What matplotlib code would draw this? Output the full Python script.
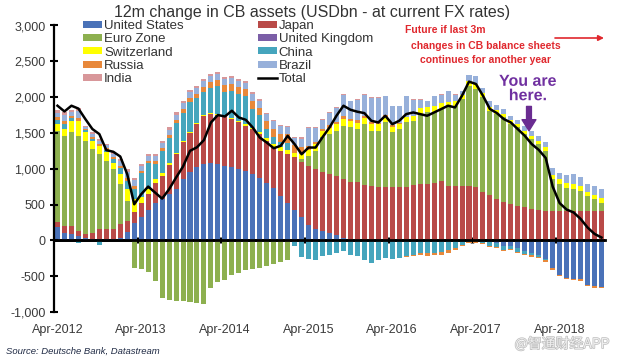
import matplotlib
matplotlib.use("Agg")
import matplotlib.pyplot as plt
import matplotlib.patheffects as pe
from matplotlib.ticker import FuncFormatter
import numpy as np
import pandas as pd

plt.rcParams["font.family"] = ["Liberation Sans", "DejaVu Sans"]

# monthly 12m change in CB assets, USDbn, Apr-2012 .. Oct-2018
months = pd.date_range("2012-04-01", periods=79, freq="MS")

us = [187, 107, 84, 60, 40, 20, 20, 20, 20, 40, 120, 237,
      320, 430, 520, 580, 650, 720, 850, 960, 1030, 1064, 1077, 1060,
      1040, 1020, 1000, 970, 924, 870, 800, 730, 620, 520, 430, 320,
      220, 160, 130, 107, 80, 40, 0, 0, 0, 0, 0, 0,
      0, 0, 0, 0, 0, 0, 0, 0, 0, 0, 0, 0,
      0, 0, -20, -30, -80, -80, -110, -150, -180, -210, -260, -380,
      -480, -520, -540, -545, -620, -640, -645]
japan = [70, 93, 116, 70, 44, 87, 134, 134, 134, 184, 150, 163,
         200, 220, 280, 320, 400, 480, 520, 540, 590, 676, 683, 690,
         700, 680, 650, 630, 626, 610, 590, 570, 630, 680, 730, 770,
         820, 830, 820, 813, 820, 820, 820, 810, 770, 760, 750, 750,
         750, 740, 750, 780, 790, 790, 800, 830, 760, 760, 760, 760,
         740, 680, 630, 580, 540, 510, 480, 460, 440, 420, 410, 410,
         410, 415, 410, 410, 405, 410, 410]
euro = [1273, 1260, 1307, 1330, 1306, 1167, 1050, 956, 840, 560, 280, -383,
        -406, -443, -570, -803, -826, -840, -850, -864, -873, -882, -663, -580,
        -550, -480, -450, -420, -400, -390, -360, -330, -300, -270, 0, 40,
        140, 260, 487, 564, 630, 740, 757, 744, 854, 770, 780, 897,
        757, 814, 897, 890, 974, 997, 987, 1004, 1097, 1120, 1214, 1400,
        1374, 1317, 1180, 1184, 1177, 1114, 1097, 1024, 974, 924, 840, 444,
        374, 322, 304, 280, 215, 164, 117]
uk = [0] * 79
swiss = [94, 94, 163, 210, 117, 116, 116, 117, 93, 140, 164, 174,
         80, 70, 60, 40, 30, 20, 20, 15, 15, 15, 15, 15,
         15, 15, 15, 20, 20, 30, 40, 50, 60, 60, 60, 70,
         80, 90, 93, 90, 90, 100, 90, 90, 80, 90, 90, 80,
         80, 70, 70, 70, 80, 80, 90, 80, 70, 60, 50, 60,
         70, 60, 50, 50, 50, 50, 50, 50, 50, 50, 60, 60,
         70, 70, 80, 70, 60, 60, 60]
china = [60, 70, 40, -30, 30, 30, -60, 30, 50, 80, 120, 150,
         344, 364, 204, 310, 347, 417, 390, 415, 355, 319, 359, 392,
         322, 375, 379, 390, 267, 234, 130, 90, 60, 100, -80, -230,
         -260, -270, -220, -200, -180, -150, -200, -220, -270, -315, -270, -245,
         -260, -245, -220, -200, -180, -180, -170, -160, -140, -100, -60, -20,
         -10, -30, -60, -60, -50, -40, -50, -40, -30, -20, -20, -10,
         0, 0, 0, 0, 0, 0, 0]
russia = [40, 40, 30, 40, 20, 20, 30, 30, 30, 40, 40, 40,
          30, 30, 40, 40, 50, 50, 60, 60, 60, 70, 80, 80,
          90, 100, 100, 100, 110, 110, 110, 120, 120, 120, 110, 100,
          60, 40, 30, 30, 30, 40, 30, 30, 30, 30, 20, 20,
          20, 10, -10, -20, -30, -40, -40, -40, -40, -30, -20, -10,
          -20, -20, -10, -20, -20, -20, -20, -20, -20, -20, -20, -20,
          -20, -20, -20, -20, -20, -20, -20]
brazil = [60, 80, 50, 90, 30, 40, 40, 40, 40, 60, 80, 80,
          60, 60, 70, 70, 70, 70, 80, 80, 80, 80, 80, 80,
          80, 80, 80, 90, 90, 90, 90, 100, 100, 100, 100, 120,
          247, 187, 124, 173, 197, 293, 243, 290, 299, 337, 347, 263,
          263, 236, 293, 224, 120, 73, 133, 119, 153, 93, 56, 90,
          116, 70, 80, 70, 70, 60, 60, 60, 60, 60, 60, 100,
          90, 110, 130, 130, 110, 120, 130]
india = [36, 43, 34, 43, 13, 27, 24, 17, 20, 30, 40, 33,
         30, 30, 30, 30, 30, 30, 30, 30, 30, 30, 30, 30,
         30, 30, 30, 30, 30, 30, 20, 20, 20, 20, 20, 20,
         10, 10, 10, 10, 10, 10, 10, 10, 10, 10, 10, 10,
         10, 10, 10, 10, 10, 10, 10, 10, 10, 10, 10, 0,
         0, 0, 0, 0, 0, 0, 0, 0, 0, 0, 0, 0,
         0, 0, 0, 0, 0, 0, 0]
total = [1880, 1800, 1880, 1840, 1693, 1555, 1484, 1260, 1237, 1171, 924, 504,
         644, 751, 667, 583, 714, 877, 1031, 1250, 1300, 1400, 1646, 1750,
         1730, 1810, 1716, 1683, 1576, 1436, 1366, 1287, 1320, 1460, 1343, 1203,
         1296, 1296, 1440, 1576, 1740, 1880, 1824, 1796, 1777, 1670, 1646, 1740,
         1623, 1670, 1763, 1786, 1763, 1740, 1786, 1833, 1880, 1856, 2020, 2216,
         2183, 2020, 1834, 1777, 1693, 1646, 1553, 1460, 1344, 1264, 1150, 750,
         520, 430, 390, 300, 180, 90, 40]

series = [
    ("United States", us, "#4A72B8"),
    ("Japan", japan, "#B94A48"),
    ("Euro Zone", euro, "#8DB04F"),
    ("United Kingdom", uk, "#7B5EA7"),
    ("Switzerland", swiss, "#FFFF00"),
    ("China", china, "#45A5BD"),
    ("Russia", russia, "#E8883A"),
    ("Brazil", brazil, "#97B0DA"),
    ("India", india, "#D8979A"),
]

fig = plt.figure(figsize=(6.2, 3.62), dpi=100)
ax = fig.add_axes([54 / 620, 1 - 312 / 362, 551 / 620, 286.5 / 362])

n = len(months)
x = np.arange(n)
pos_base = np.zeros(n)
neg_base = np.zeros(n)
handles = {}
for name, vals, color in series:
    v = np.asarray(vals, dtype=float)
    up = np.clip(v, 0, None)
    dn = np.clip(v, None, 0)
    handles[name] = ax.bar(x, up, 0.72, bottom=pos_base, color=color, linewidth=0)
    ax.bar(x, dn, 0.72, bottom=neg_base, color=color, linewidth=0)
    pos_base += up
    neg_base += dn

(handles["Total"],) = ax.plot(x, total, color="black", lw=1.8, zorder=6)

ax.set_xlim(-0.5, n - 0.5)
ax.set_ylim(-1000, 3000)
ax.set_yticks(np.arange(-1000, 3001, 500))
ax.yaxis.set_major_formatter(FuncFormatter(lambda v, p: f"{v:,.0f}"))

apr = np.where(months.month == 4)[0]
ax.set_xticks(apr)
ax.set_xticklabels([months[i].strftime("%b-%Y") for i in apr])

for side in ("top", "right", "bottom"):
    ax.spines[side].set_visible(False)
ax.spines["left"].set_linewidth(1.6)
ax.tick_params(axis="y", direction="inout", length=6, width=1.5, pad=3,
               labelsize=9, labelcolor="#3a3a3a")
ax.tick_params(axis="x", length=0, pad=9, labelsize=9, labelcolor="#3a3a3a")

# zero line with year tick marks
ax.axhline(0, color="black", lw=2, zorder=5)
zero_frac = (0 - ax.get_ylim()[0]) / (ax.get_ylim()[1] - ax.get_ylim()[0])
secax = ax.secondary_xaxis(zero_frac)
secax.set_xticks(apr[1:] - 0.5)
secax.tick_params(direction="inout", length=5, width=2.5, labelbottom=False)
secax.spines["bottom"].set_linewidth(2)

order = ["United States", "Euro Zone", "Switzerland", "Russia", "India",
         "Japan", "United Kingdom", "China", "Brazil", "Total"]
fig.legend([handles[k] for k in order], order, ncol=2, loc="upper left",
           bbox_to_anchor=(83 / 620, 1 - 20 / 362), frameon=False,
           borderpad=0, borderaxespad=0, handlelength=1.45, handleheight=0.45,
           handletextpad=0.15, labelspacing=0.1, columnspacing=5.6,
           prop={"size": 9.5}, labelcolor="#333333")

fig.text(312 / 620, 1 - 13 / 362,
         "12m change in CB assets (USDbn - at current FX rates)",
         ha="center", va="center", fontsize=11.5, color="#333333")

red = "#E0282E"
fig.text(405 / 620, 1 - 30 / 362, "Future if last 3m", color=red,
         fontweight="bold", fontsize=7.5, ha="left", va="center")
fig.text(486 / 620, 1 - 46 / 362, "changes in CB balance sheets", color=red,
         fontweight="bold", fontsize=7.5, ha="center", va="center")
fig.text(486 / 620, 1 - 60 / 362, "continues for another year", color=red,
         fontweight="bold", fontsize=7.5, ha="center", va="center")
ax.annotate("", xy=(604 / 620, 1 - 38 / 362), xytext=(555 / 620, 1 - 38 / 362),
            xycoords="figure fraction", textcoords="figure fraction",
            arrowprops=dict(arrowstyle="-|>", color=red, lw=1.2,
                            mutation_scale=8, shrinkA=0, shrinkB=0))

purple = "#7030A0"
fig.text(528 / 620, 1 - 88.5 / 362, "You are\nhere.", ha="center", va="center",
         color=purple, fontweight="bold", fontsize=11.5, linespacing=0.95,
         path_effects=[pe.withStroke(linewidth=2.5, foreground="white")])
ax.annotate("", xy=(67.6, 1530), xytext=(67.6, 1870),
            arrowprops=dict(arrowstyle="simple,head_width=1.0,head_length=0.8,tail_width=0.35",
                            color="#6A2C91", mutation_scale=10, shrinkA=0, shrinkB=0))

fig.text(6 / 620, 1 - 351 / 362, "Source: Deutsche Bank, Datastream",
         fontstyle="italic", fontsize=6.8, color="#1f2a44", va="center")
fig.text(562 / 620, 1 - 344 / 362, "@智通财经APP",
         family=["Noto Sans CJK SC", "DejaVu Sans"], fontsize=10,
         color="#eeeeee", ha="center", va="center",
         path_effects=[pe.withStroke(linewidth=1, foreground="#bdbdbd")])

fig.savefig("out.png", dpi=100)
